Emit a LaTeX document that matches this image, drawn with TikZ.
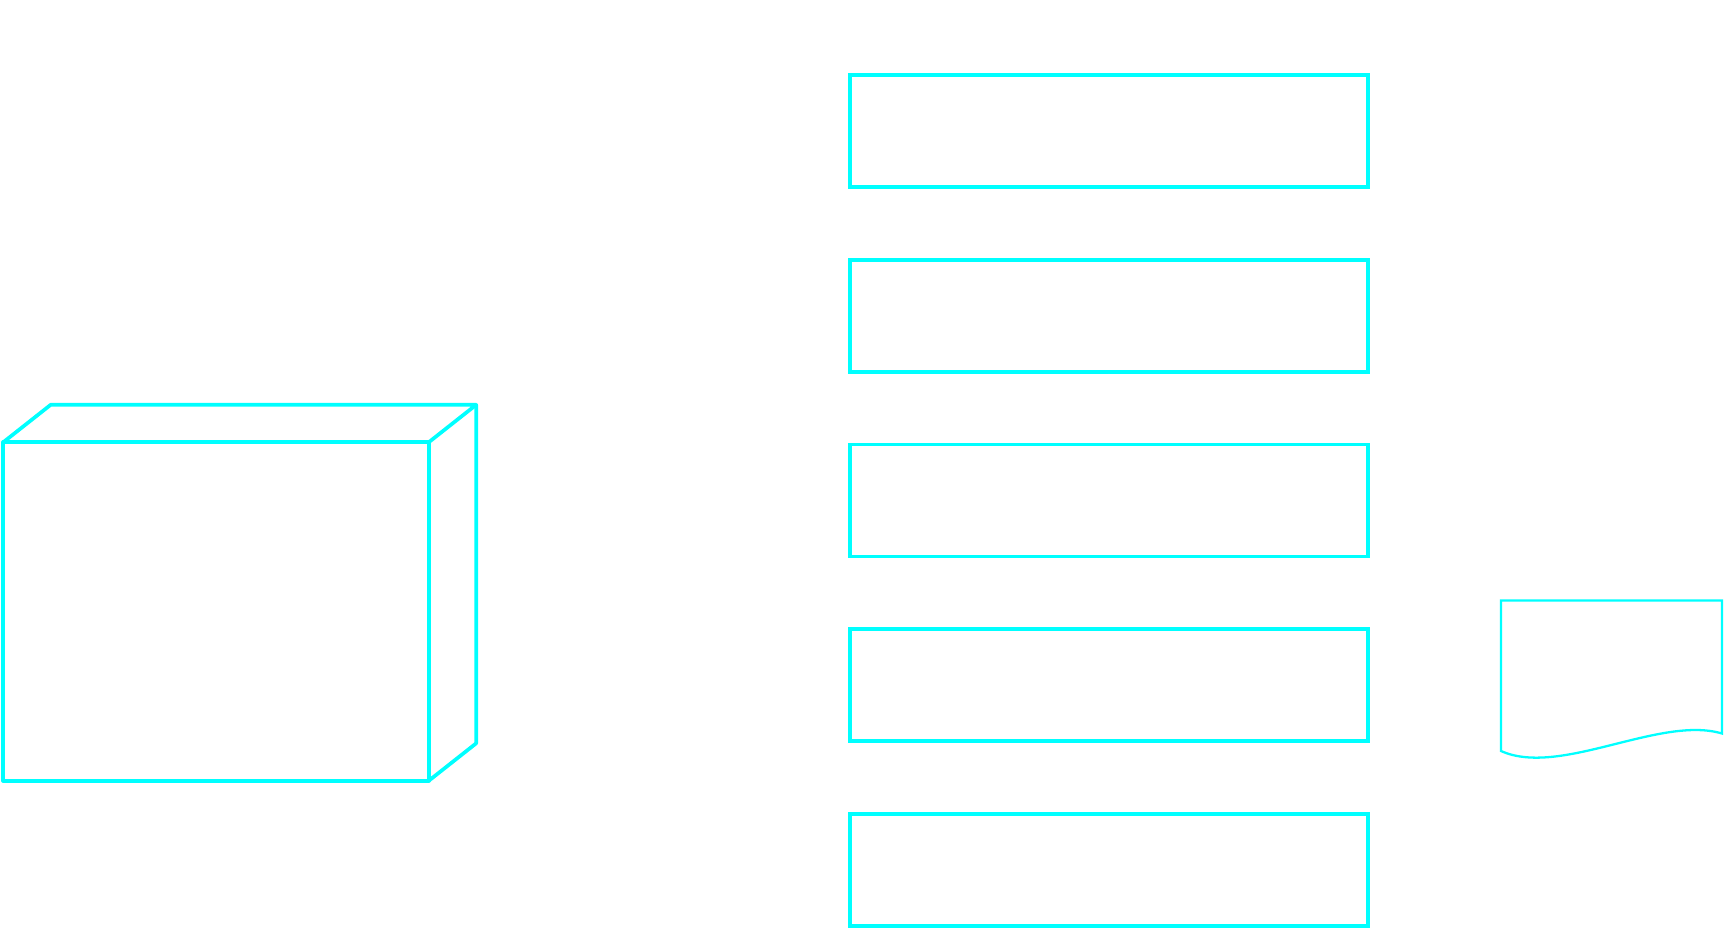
\documentclass[tikz,border=0pt]{standalone}
\usepackage{tikz}
\usetikzlibrary{arrows.meta,positioning,calc}
\definecolor{aqua}{RGB}{0,255,255}
\tikzset{
  stage/.style={draw=aqua, line width=2.1pt, rectangle, minimum width=10.36cm, minimum height=2.24cm, inner sep=0pt},
  crate/.style={draw=aqua, line width=2.1pt, line join=round},
  sheet/.style={draw=aqua, line width=1.3pt},
  link/.style={-Latex, white, line width=0.6pt}
}
\begin{document}
\begin{tikzpicture}
  \useasboundingbox (0,0) rectangle (34.48,-18.56);
  \node[stage] (s1) at (22.18,-2.62) {};
  \node[stage, below=1.38cm of s1] (s2) {};
  \node[stage, below=1.38cm of s2] (s3) {};
  \node[stage, below=1.38cm of s3] (s4) {};
  \node[stage, below=1.38cm of s4] (s5) {};
  \node[crate, minimum width=8.51cm, minimum height=6.77cm, outer sep=0pt] (cube) at (4.32,-12.23) {};
  \draw[crate] (cube.north west) -- ++(0.95,0.75) -- ($(cube.north east)+(0.95,0.75)$) -- (cube.north east);
  \draw[crate] ($(cube.north east)+(0.95,0.75)$) -- ($(cube.south east)+(0.95,0.75)$) -- (cube.south east);
  \draw[sheet] (30.02,-15.02) -- (30.02,-12.01) -- (34.44,-12.01) -- (34.44,-14.67)
    .. controls (33.2,-14.3) and (31.2,-15.55) .. cycle;
  \foreach \a/\b in {s2/s1,s3/s2,s5/s4}{\draw[link] (\a) -- (\b);}
\end{tikzpicture}
\end{document}
